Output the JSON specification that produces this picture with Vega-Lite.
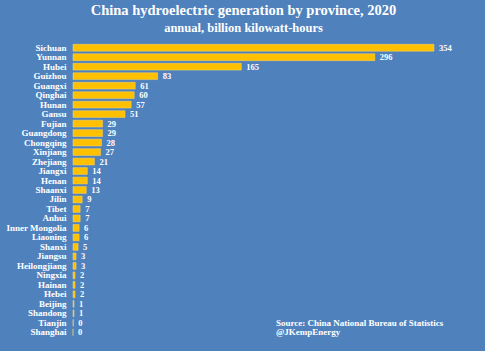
{
  "$schema": "https://vega.github.io/schema/vega-lite/v6.json",
  "width": 361,
  "height": 294,
  "autosize": {"type": "none"},
  "padding": {"left": 73, "top": 43, "right": 51, "bottom": 14},
  "background": "#4f81bd",
  "title": {
    "text": "China hydroelectric generation by province, 2020",
    "subtitle": "annual, billion kilowatt-hours",
    "anchor": "middle",
    "dx": -10,
    "offset": 8,
    "font": "Liberation Serif",
    "fontSize": 14.5,
    "fontWeight": "bold",
    "color": "white",
    "subtitleFont": "Liberation Serif",
    "subtitleFontSize": 12.5,
    "subtitleFontWeight": "bold",
    "subtitleColor": "white",
    "subtitlePadding": 3
  },
  "config": {"view": {"stroke": null}},
  "data": {"values": [
    {"province": "Sichuan", "value": 354},
    {"province": "Yunnan", "value": 296},
    {"province": "Hubei", "value": 165},
    {"province": "Guizhou", "value": 83},
    {"province": "Guangxi", "value": 61},
    {"province": "Qinghai", "value": 60},
    {"province": "Hunan", "value": 57},
    {"province": "Gansu", "value": 51},
    {"province": "Fujian", "value": 29},
    {"province": "Guangdong", "value": 29},
    {"province": "Chongqing", "value": 28},
    {"province": "Xinjiang", "value": 27},
    {"province": "Zhejiang", "value": 21},
    {"province": "Jiangxi", "value": 14},
    {"province": "Henan", "value": 14},
    {"province": "Shaanxi", "value": 13},
    {"province": "Jilin", "value": 9},
    {"province": "Tibet", "value": 7},
    {"province": "Anhui", "value": 7},
    {"province": "Inner Mongolia", "value": 6},
    {"province": "Liaoning", "value": 6},
    {"province": "Shanxi", "value": 5},
    {"province": "Jiangsu", "value": 3},
    {"province": "Heilongjiang", "value": 3},
    {"province": "Ningxia", "value": 2},
    {"province": "Hainan", "value": 2},
    {"province": "Hebei", "value": 2},
    {"province": "Beijing", "value": 1},
    {"province": "Shandong", "value": 1},
    {"province": "Tianjin", "value": 0.3},
    {"province": "Shanghai", "value": 0}
  ]},
  "layer": [
    {
      "mark": {"type": "bar", "color": "#ffc000", "stroke": "#ffd966", "strokeWidth": 0.5},
      "encoding": {
        "y": {
          "field": "province", "type": "nominal", "sort": null,
          "scale": {"paddingInner": 0.28, "paddingOuter": 0.14},
          "axis": {
            "title": null, "domain": false, "ticks": false,
            "labelFont": "Liberation Serif", "labelFontSize": 9, "labelFontWeight": "bold",
            "labelColor": "white", "labelPadding": 7
          }
        },
        "x": {
          "field": "value", "type": "quantitative",
          "scale": {"domain": [0, 354], "nice": false},
          "axis": null
        }
      }
    },
    {
      "mark": {"type": "text", "align": "left", "dx": 5, "font": "Liberation Serif", "fontSize": 8.5, "fontWeight": "bold", "color": "white"},
      "encoding": {
        "y": {"field": "province", "type": "nominal", "sort": null},
        "x": {"field": "value", "type": "quantitative"},
        "text": {"field": "value", "type": "quantitative", "format": ".0f"}
      }
    },
    {
      "data": {"values": [{"line": "Source: China National Bureau of Statistics", "row": "Tianjin"}, {"line": "@JKempEnergy", "row": "Shanghai"}]},
      "mark": {"type": "text", "align": "left", "baseline": "middle", "font": "Liberation Serif", "fontSize": 9, "fontWeight": "bold", "color": "white"},
      "encoding": {
        "x": {"datum": 199, "type": "quantitative"},
        "y": {"field": "row", "type": "nominal", "sort": null},
        "text": {"field": "line", "type": "nominal"}
      }
    }
  ]
}
